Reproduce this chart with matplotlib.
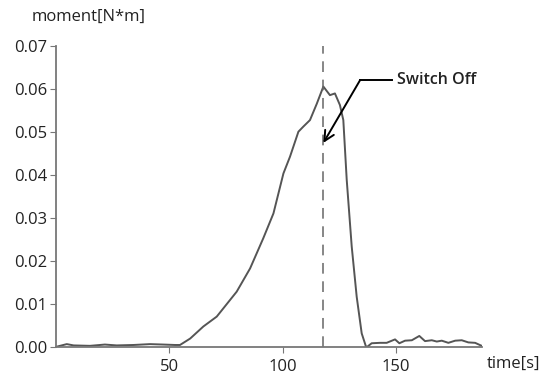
import matplotlib
matplotlib.use("Agg")
import matplotlib.pyplot as plt
import numpy as np

plt.rcParams['font.family'] = ['Open Sans', 'DejaVu Sans']

# moment curve
time_s = [0.3, 4.8, 7.8, 15, 21.6, 26.8, 34.2, 41.5, 47.4, 52.5, 54.7, 59.2, 65, 70.9,
          79.7, 85.6, 91.4, 95.9, 100.3, 103.2, 106.9, 109.1, 112, 115, 117.9, 120.8,
          123, 125.2, 126.7, 128.2, 130.4, 132.6, 134.8, 136.7, 137.3, 139.2, 142.9,
          145.8, 149.5, 151.4, 153.9, 156.9, 160.2, 162.7, 165.7, 167.9, 170.1, 173,
          176, 178.9, 181.8, 184.8, 187.7]
moment = [0.0, 0.0006, 0.0003, 0.0002, 0.0005, 0.0003, 0.0004, 0.0006, 0.0005, 0.0004,
          0.0004, 0.0019, 0.0047, 0.007, 0.0128, 0.0182, 0.0252, 0.031, 0.0403, 0.0442,
          0.05, 0.0512, 0.0527, 0.0565, 0.0605, 0.0585, 0.0589, 0.0562, 0.0527, 0.0388,
          0.0233, 0.0116, 0.0031, 0.0, 0.0, 0.0008, 0.0009, 0.0009, 0.0017, 0.0008,
          0.0014, 0.0015, 0.0025, 0.0013, 0.0015, 0.0012, 0.0014, 0.0009, 0.0014,
          0.0015, 0.001, 0.0009, 0.0002]

switch_off = 117.9
x_ticks = [50, 100, 150]
y_ticks = [0.0, 0.01, 0.02, 0.03, 0.04, 0.05, 0.06, 0.07]

fig = plt.figure(figsize=(5.45, 3.74), dpi=100)
ax = fig.add_axes([55.9 / 545, 27.3 / 374, (481.7 - 55.9) / 545, (346.7 - 45.7) / 374])

ax.plot(time_s, moment, color='#555555', lw=1.4)
ax.axvline(switch_off, color='#666666', lw=1.1, linestyle=(0, (7, 5)))

ax.set_xlim(0, 187.7)
ax.set_ylim(0, 0.07)
ax.set_xticks(x_ticks)
ax.set_yticks(y_ticks)
ax.set_yticklabels([f"{v:.2f}" for v in y_ticks])
for s in ['top', 'right']:
    ax.spines[s].set_visible(False)
for s in ['left', 'bottom']:
    ax.spines[s].set_color('#777777')
    ax.spines[s].set_linewidth(1.3)
ax.tick_params(axis='both', colors='#777777', labelcolor='#222222', labelsize=12)
ax.tick_params(axis='y', length=4, pad=2)
ax.tick_params(axis='x', length=4, pad=5)

fig.text(32 / 545, 1 - 17 / 374, 'moment[N*m]', fontsize=12, color='#222222', va='center')
fig.text(487 / 545, 1 - 364 / 374, 'time[s]', fontsize=12, color='#222222', va='center')

ax.annotate('', xy=(switch_off, 0.0474), xytext=(134.1, 0.062),
            arrowprops=dict(arrowstyle='->', color='black', lw=1.4,
                            shrinkA=0, shrinkB=0, mutation_scale=18))
ax.plot([134.1, 148.0], [0.062, 0.062], color='black', lw=1.4, clip_on=False)
ax.text(150.3, 0.062, 'Switch Off', fontsize=11.5, fontweight='semibold',
        color='#222222', va='center', ha='left', clip_on=False)

fig.savefig('out.png', dpi=100)
